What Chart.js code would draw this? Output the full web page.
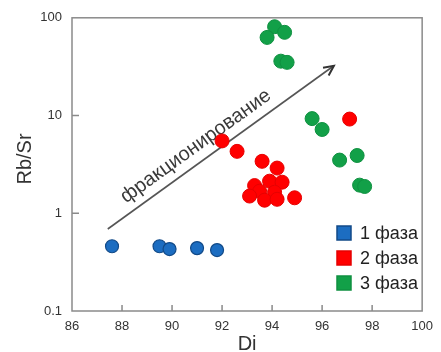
<!DOCTYPE html>
<html>
<head>
<meta charset="utf-8">
<script src="https://cdn.jsdelivr.net/npm/chart.js@4/dist/chart.umd.min.js"></script>
<style>
  html, body { margin: 0; padding: 0; background: #fff; }
  #wrap { width: 441px; height: 352px; }
</style>
</head>
<body>
<div id="wrap"><canvas id="diChart"></canvas></div>
<script>
// Di vs Rb/Sr by intrusion phase
const phase1Di = [87.6, 89.5, 89.9, 91.0, 91.8];
const phase1RbSr = [0.46, 0.46, 0.43, 0.44, 0.42];

const phase2Di = [92.0, 92.6, 93.6, 94.2, 93.9, 94.4, 93.3, 93.5, 94.1, 93.1, 93.7, 94.2, 94.9, 97.1];
const phase2RbSr = [5.5, 4.3, 3.4, 2.9, 2.13, 2.08, 1.92, 1.68, 1.64, 1.5, 1.36, 1.39, 1.44, 9.2];

const phase3Di = [94.1, 93.8, 94.5, 94.35, 94.6, 95.6, 96.0, 96.7, 97.4, 97.5, 97.7];
const phase3RbSr = [81, 63, 71, 36, 35, 9.3, 7.2, 3.5, 3.9, 1.94, 1.88];

const phaseLabels = ["1 фаза", "2 фаза", "3 фаза"];
const xTicks = [86, 88, 90, 92, 94, 96, 98, 100];
const yTicks = [0.1, 1, 10, 100];

// fractionation trend arrow, in data units
const trendFrom = { x: 87.43, y: 0.69 };
const trendTo = { x: 96.47, y: 32.3 };
const trendText = "фракционирование";

const FONT = "'Liberation Sans', Arial, sans-serif";
Chart.defaults.font.family = FONT;

function toPoints(xs, ys) {
    return xs.map((x, i) => ({ x: x, y: ys[i] }));
}

const frame = {
    id: "frame",
    beforeDatasetsDraw(chart) {
        const { ctx, scales } = chart;
        const x = scales.x, y = scales.y;
        ctx.save();

        // trend arrow
        const x0 = x.getPixelForValue(trendFrom.x), y0 = y.getPixelForValue(trendFrom.y);
        const x1 = x.getPixelForValue(trendTo.x), y1 = y.getPixelForValue(trendTo.y);
        const ang = Math.atan2(y1 - y0, x1 - x0);
        ctx.strokeStyle = "#555";
        ctx.lineWidth = 1.6;
        ctx.beginPath();
        ctx.moveTo(x0, y0);
        ctx.lineTo(x1, y1);
        ctx.stroke();
        ctx.strokeStyle = "#333";
        ctx.lineWidth = 2;
        ctx.beginPath();
        ctx.moveTo(x1 - 11 * Math.cos(ang - 0.45), y1 - 11 * Math.sin(ang - 0.45));
        ctx.lineTo(x1, y1);
        ctx.lineTo(x1 - 11 * Math.cos(ang + 0.45), y1 - 11 * Math.sin(ang + 0.45));
        ctx.stroke();

        const t = 0.43;
        ctx.translate(x0 + (x1 - x0) * t, y0 + (y1 - y0) * t);
        ctx.rotate(ang);
        ctx.fillStyle = "#3a3a3a";
        ctx.font = "20px " + FONT;
        ctx.textAlign = "center";
        ctx.textBaseline = "alphabetic";
        ctx.fillText(trendText, 0, -10);
        ctx.restore();
    },
    afterDraw(chart) {
        const { ctx, chartArea: a, scales } = chart;
        ctx.save();
        ctx.strokeStyle = "#8a8a8a";
        ctx.lineWidth = 1.5;
        ctx.strokeRect(a.left, a.top, a.right - a.left, a.bottom - a.top);

        // inward tick marks
        ctx.beginPath();
        xTicks.slice(1, -1).forEach(v => {
            const px = scales.x.getPixelForValue(v);
            ctx.moveTo(px, a.bottom);
            ctx.lineTo(px, a.bottom - 6);
        });
        yTicks.slice(1, -1).forEach(v => {
            const py = scales.y.getPixelForValue(v);
            ctx.moveTo(a.left, py);
            ctx.lineTo(a.left + 7, py);
        });
        ctx.stroke();

        // axis titles
        ctx.fillStyle = "#333";
        ctx.font = "20px " + FONT;
        ctx.textAlign = "center";
        ctx.textBaseline = "middle";
        ctx.fillText("Di", (a.left + a.right) / 2, 344);
        ctx.translate(25, 159);
        ctx.rotate(-Math.PI / 2);
        ctx.fillText("Rb/Sr", 0, 0);
        ctx.restore();

        // legend in the lower right of the plot
        ctx.save();
        ctx.font = "18px " + FONT;
        ctx.textAlign = "left";
        ctx.textBaseline = "middle";
        chart.data.datasets.forEach((ds, i) => {
            const cy = 233 + i * 25;
            ctx.fillStyle = ds.backgroundColor;
            ctx.fillRect(337, cy - 7, 14, 14);
            ctx.strokeStyle = ds.borderColor;
            ctx.lineWidth = 1.5;
            ctx.strokeRect(337, cy - 7, 14, 14);
            ctx.fillStyle = "#222";
            ctx.fillText(ds.label, 360, cy + 1);
        });
        ctx.restore();
    }
};

new Chart(document.getElementById("diChart"), {
    type: "scatter",
    data: {
        datasets: [
            {
                label: phaseLabels[0],
                data: toPoints(phase1Di, phase1RbSr),
                backgroundColor: "#1c6dc1",
                borderColor: "#124a88",
                borderWidth: 1.2,
                pointRadius: 6.5,
                pointHoverRadius: 6.5
            },
            {
                label: phaseLabels[1],
                data: toPoints(phase2Di, phase2RbSr),
                backgroundColor: "#ff0000",
                borderColor: "#e60000",
                borderWidth: 1,
                pointRadius: 7,
                pointHoverRadius: 7
            },
            {
                label: phaseLabels[2],
                data: toPoints(phase3Di, phase3RbSr),
                backgroundColor: "#12a048",
                borderColor: "#0f9040",
                borderWidth: 1,
                pointRadius: 7,
                pointHoverRadius: 7
            }
        ]
    },
    options: {
        responsive: true,
        maintainAspectRatio: false,
        animation: false,
        layout: { padding: { top: 15, right: 13, left: 0, bottom: 0 } },
        plugins: {
            legend: { display: false },
            tooltip: { enabled: false }
        },
        scales: {
            x: {
                type: "linear",
                min: 86,
                max: 100,
                afterBuildTicks: s => { s.ticks = xTicks.map(v => ({ value: v })); },
                afterFit: s => { s.height = 41; },
                ticks: { color: "#333", font: { size: 13 }, padding: 8, maxRotation: 0 },
                grid: { drawOnChartArea: false, drawTicks: false },
                border: { display: false }
            },
            y: {
                type: "logarithmic",
                min: 0.1,
                max: 100,
                afterBuildTicks: s => { s.ticks = yTicks.map(v => ({ value: v })); },
                afterFit: s => { s.width = 72; },
                ticks: {
                    color: "#333",
                    font: { size: 13 },
                    padding: 10,
                    callback: v => String(v)
                },
                grid: { drawOnChartArea: false, drawTicks: false },
                border: { display: false }
            }
        }
    },
    plugins: [frame]
});
</script>
</body>
</html>
